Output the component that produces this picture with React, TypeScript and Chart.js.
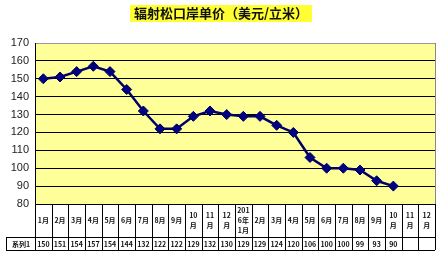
import React, { useEffect, useRef } from "react";
import { Chart, registerables } from "chart.js";

Chart.register(...registerables);

const TITLE = "辐射松口岸单价（美元/立米）";
const SERIES_NAME = "系列1";
const categories = [
  "1月", "2月", "3月", "4月", "5月", "6月", "7月", "8月", "9月", "10月", "11月", "12月",
  "2016年1月", "2月", "3月", "4月", "5月", "6月", "7月", "8月", "9月", "10月", "11月", "12月",
];
const tickLabels: string[][] = [
  ["1月"], ["2月"], ["3月"], ["4月"], ["5月"], ["6月"], ["7月"], ["8月"], ["9月"], ["10", "月"], ["11", "月"], ["12", "月"],
  ["201", "6年", "1月"], ["2月"], ["3月"], ["4月"], ["5月"], ["6月"], ["7月"], ["8月"], ["9月"], ["10", "月"], ["11", "月"], ["12", "月"],
];
const values: (number | null)[] = [
  150, 151, 154, 157, 154, 144, 132, 122, 122, 129, 132, 130,
  129, 129, 124, 120, 106, 100, 100, 99, 93, 90, null, null,
];
const Y_MIN = 80;
const Y_MAX = 170;
const Y_STEP = 10;

const decor = {
  id: "decor",
  beforeDraw(chart: any) {
    const { ctx, chartArea } = chart;
    ctx.save();
    ctx.fillStyle = "#ffffff";
    ctx.fillRect(0, 0, chart.width, chart.height);
    ctx.fillStyle = "#FFFF99";
    ctx.fillRect(chartArea.left, chartArea.top, chartArea.right - chartArea.left, chartArea.bottom - chartArea.top);
    // title
    ctx.font = "bold 13px 'Noto Sans CJK SC'";
    const tw = ctx.measureText(TITLE).width;
    const cx = 221;
    ctx.fillStyle = "#FFFF33";
    ctx.fillRect(cx - tw / 2 - 4, 5, tw + 8, 17);
    ctx.fillStyle = "#111";
    ctx.textAlign = "center";
    ctx.textBaseline = "middle";
    ctx.fillText(TITLE, cx, 13.5);
    ctx.restore();
  },
  afterDraw(chart: any) {
    const { ctx, chartArea } = chart;
    const x = chart.scales.x;
    const n = categories.length;
    const w = (chartArea.right - chartArea.left) / n;
    const top = chartArea.bottom;
    const mid = 237;
    const bot = 250;
    ctx.save();
    // right border
    ctx.strokeStyle = "#888";
    ctx.lineWidth = 1;
    ctx.beginPath();
    ctx.moveTo(chartArea.right + 0.5, chartArea.top);
    ctx.lineTo(chartArea.right + 0.5, chartArea.bottom);
    ctx.stroke();
    ctx.strokeStyle = "#000";
    ctx.beginPath();
    ctx.moveTo(chartArea.left, top + 0.5);
    ctx.lineTo(chartArea.right, top + 0.5);
    ctx.moveTo(6, mid + 0.5);
    ctx.lineTo(chartArea.right, mid + 0.5);
    ctx.moveTo(6, bot + 0.5);
    ctx.lineTo(chartArea.right, bot + 0.5);
    for (let i = 0; i <= n; i++) {
      const px = Math.round(x.getPixelForValue(Math.min(i, n - 1)) + (i === n ? w / 2 : -w / 2)) + 0.5;
      ctx.moveTo(px, top);
      ctx.lineTo(px, bot);
    }
    ctx.moveTo(6.5, mid);
    ctx.lineTo(6.5, bot);
    ctx.stroke();
    ctx.fillStyle = "#111";
    ctx.textAlign = "center";
    ctx.textBaseline = "middle";
    ctx.font = "bold 7px 'Noto Sans CJK SC'";
    for (let i = 0; i < n; i++) {
      const px = x.getPixelForValue(i);
      const lines = tickLabels[i];
      const lh = 10;
      const cy = (top + mid) / 2;
      const start = cy - ((lines.length - 1) * lh) / 2;
      lines.forEach((l, j) => ctx.fillText(l, px, start + j * lh));
      const v = values[i];
      if (v !== null) ctx.fillText(String(v), px, (mid + bot) / 2 + 0.5);
    }
    ctx.fillText(SERIES_NAME, 21, (mid + bot) / 2 + 0.5);
    ctx.restore();
  },
};

export default function App() {
  const ref = useRef<HTMLCanvasElement>(null);
  useEffect(() => {
    document.body.style.margin = "0";
    const chart = new Chart(ref.current!, {
      type: "line",
      data: {
        labels: categories,
        datasets: [
          {
            label: SERIES_NAME,
            data: values,
            borderColor: "#000066",
            borderWidth: 2.5,
            pointStyle: "rectRot",
            pointRadius: 5,
            pointBackgroundColor: "#000080",
            pointBorderColor: "#000066",
            pointBorderWidth: 1,
            tension: 0,
          },
        ],
      },
      options: {
        responsive: false,
        animation: false,
        layout: { padding: { top: 43, right: 6, bottom: 51, left: 0 } },
        plugins: { legend: { display: false }, title: { display: false }, tooltip: { enabled: false } },
        scales: {
          x: { type: "category", display: false, offset: true },
          y: {
            min: Y_MIN,
            max: Y_MAX,
            ticks: {
              stepSize: Y_STEP,
              color: "#222",
              padding: 6,
              font: { size: 11, family: "'Liberation Sans'" },
            },
            grid: {
              drawTicks: false,
              color: (c: any) => (c.tick && c.tick.value === Y_MAX ? "#999" : "#000"),
              lineWidth: 1,
            },
            border: { display: true, color: "#000" },
            afterFit: (s: any) => {
              s.width = 35;
            },
          },
        },
      },
      plugins: [decor],
    });
    return () => chart.destroy();
  }, []);
  return (
    <div style={{ position: "fixed", left: 0, top: 0, width: 441, height: 255 }}>
      <canvas ref={ref} width={441} height={255} />
    </div>
  );
}
